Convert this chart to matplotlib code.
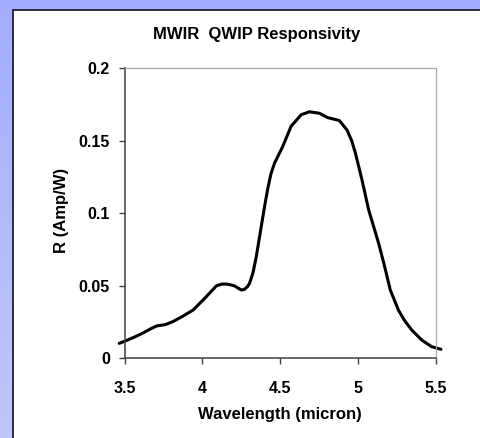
import numpy as np
import matplotlib
matplotlib.use("Agg")
import matplotlib.pyplot as plt
from matplotlib.patches import Rectangle

plt.rcParams['font.family'] = ['Liberation Sans', 'DejaVu Sans']
plt.rcParams['font.weight'] = 'bold'

# Spectral responsivity of the MWIR QWIP detector
wavelength = [3.465, 3.50, 3.56, 3.62, 3.67, 3.705, 3.76, 3.81, 3.87, 3.94,
              4.004, 4.05, 4.09, 4.125, 4.154, 4.18, 4.207, 4.23, 4.25, 4.27,
              4.29, 4.303, 4.325, 4.346, 4.378, 4.40, 4.42, 4.44, 4.463, 4.516,
              4.57, 4.635, 4.688, 4.752, 4.805, 4.88, 4.93, 4.96, 4.984, 5.026,
              5.069, 5.133, 5.17, 5.208, 5.26, 5.30, 5.346, 5.41, 5.474, 5.534]
responsivity = [0.0103, 0.0118, 0.0145, 0.0176, 0.0205, 0.0223, 0.0232, 0.0253, 0.0288, 0.0333,
                0.0402, 0.0454, 0.0500, 0.0512, 0.0512, 0.0507, 0.0499, 0.0484, 0.0471, 0.0475,
                0.0495, 0.0517, 0.0590, 0.0700, 0.0908, 0.1050, 0.1170, 0.1270, 0.1345, 0.1460,
                0.1600, 0.1680, 0.1700, 0.1690, 0.1660, 0.1640, 0.1574, 0.1500, 0.1414, 0.1230,
                0.1023, 0.0793, 0.0640, 0.0471, 0.0333, 0.0260, 0.0195, 0.0126, 0.0080, 0.0062]

x_ticks = [3.5, 4, 4.5, 5, 5.5]
x_tick_labels = ['3.5', '4', '4.5', '5', '5.5']
y_ticks = [0, 0.05, 0.1, 0.15, 0.2]
y_tick_labels = ['0', '0.05', '0.1', '0.15', '0.2']

W, H = 481, 438
fig = plt.figure(figsize=(W / 100, H / 100), dpi=100)

# Slide-style backdrop: vertical blue gradient with a white framed panel
bg = fig.add_axes([0, 0, 1, 1], zorder=0)
top = np.array([163, 174, 255]) / 255
bottom = np.array([190, 200, 252]) / 255
t = np.linspace(0, 1, 256)[:, None]
grad = top * (1 - t) + bottom * t
bg.imshow(grad[:, None, :].repeat(2, axis=1), aspect='auto',
          extent=[0, 1, 0, 1], origin='upper')
bg.add_patch(Rectangle((13 / W, -0.1), 1.2, (H - 9.5) / H + 0.1,
                       facecolor='white', edgecolor='#20202c', linewidth=1.3))
bg.set_xlim(0, 1)
bg.set_ylim(0, 1)
bg.axis('off')

ax = fig.add_axes([124.7 / W, (H - 358.3) / H, 311 / W, 290 / H], zorder=1)
ax.patch.set_alpha(0)
ax.plot(wavelength, responsivity, color='black', linewidth=2.2,
        clip_on=False, solid_joinstyle='round', solid_capstyle='round')

ax.set_xlim(3.5, 5.5)
ax.set_ylim(0, 0.2)
ax.set_xticks(x_ticks)
ax.set_xticklabels(x_tick_labels)
ax.set_yticks(y_ticks)
ax.set_yticklabels(y_tick_labels)
ax.tick_params(axis='x', direction='out', length=4, width=1, color='#404040',
               pad=12, labelsize=11.5)
ax.tick_params(axis='y', direction='out', length=4.5, width=1, color='#404040',
               pad=6, labelsize=11.5)
for lbl in ax.get_xticklabels() + ax.get_yticklabels():
    lbl.set_fontweight('bold')

for side in ('left', 'bottom'):
    ax.spines[side].set_color('#404040')
    ax.spines[side].set_linewidth(1.1)
for side in ('top', 'right'):
    ax.spines[side].set_color('#a8a8a8')
    ax.spines[side].set_linewidth(0.9)

fig.text(256.7 / W, 1 - 35 / H, 'MWIR  QWIP Responsivity', ha='center',
         va='center', fontsize=12, fontweight='bold')
fig.text(280 / W, 1 - 415 / H, 'Wavelength (micron)', ha='center',
         va='center', fontsize=12, fontweight='bold')
fig.text(62 / W, 1 - 210 / H, 'R (Amp/W)', ha='center', va='center',
         rotation=90, fontsize=12, fontweight='bold')

fig.savefig('out.png', dpi=100)
